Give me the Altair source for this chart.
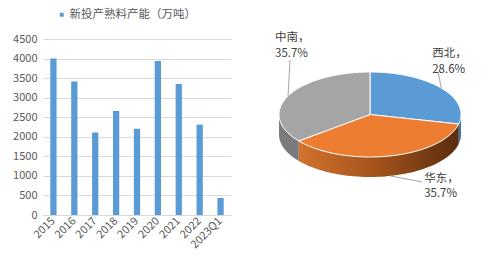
import altair as alt
import pandas as pd
import numpy as np

# ---------------- data ----------------
years = ["2015", "2016", "2017", "2018", "2019", "2020", "2021", "2022", "2023Q1"]
capacity = [4000, 3415, 2110, 2660, 2205, 3935, 3350, 2310, 435]
series_name = "新投产熟料产能（万吨）"

regions = ["西北", "华东", "中南"]
shares = [28.6, 35.7, 35.7]

# ---------------- styles / layout ----------------
FONT = "Noto Sans CJK SC"
BAR_COLOR = "#5b9bd5"
top_colors = ["#5b9bd5", "#ed7d31", "#a5a5a5"]
wall_colors = ["#3d74a8", None, "#7b7b7b"]
orange_wall = alt.Gradient(
    gradient="linear",
    stops=[alt.GradientStop(color="#d2722d", offset=0),
           alt.GradientStop(color="#a2521b", offset=0.5),
           alt.GradientStop(color="#5a2c0e", offset=1)],
    x1=0, x2=1, y1=0, y2=0,
)

PW, PH = 240, 176           # pie panel size
cx, cy, rx, ry, depth = 118, 75.5, 91, 42.5, 20
# leader (dx, dy) from slice edge, then label offset (first line) from leader end
leader_off = [(-3, -16), (32, 6), (2, -36)]
label_off = [(-6, -18), (2, -3), (-15, -22)]

# ---------------- bar chart ----------------
bar_df = pd.DataFrame({"year": years, "capacity": capacity, "series": series_name})
bars = alt.Chart(bar_df).mark_bar().encode(
    x=alt.X("year:N", sort=years, title=None,
            scale=alt.Scale(paddingInner=0.7, paddingOuter=0.35),
            axis=alt.Axis(labelAngle=-45, labelAlign="right", labelBaseline="middle",
                          labelFontSize=11, labelColor="#595959", labelFont=FONT,
                          labelPadding=4, ticks=False, domainColor="#d9d9d9",
                          grid=False)),
    y=alt.Y("capacity:Q", title=None, scale=alt.Scale(domain=[0, 4500], nice=False),
            axis=alt.Axis(values=list(range(0, 4501, 500)), format="d", labelFontSize=11,
                          labelColor="#595959", labelFont=FONT, labelPadding=6,
                          domain=False, ticks=False, gridColor="#d9d9d9")),
    color=alt.Color("series:N",
                    scale=alt.Scale(domain=[series_name], range=[BAR_COLOR]),
                    legend=alt.Legend(title=None, orient="none", legendX=13, legendY=-30,
                                      symbolType="square", symbolSize=30,
                                      labelFont=FONT, labelFontSize=11.5,
                                      labelColor="#595959", labelOffset=2)),
).properties(width=188, height=176)

# ---------------- 3D-style pie ----------------
cum = np.concatenate([[0], np.cumsum(shares)]) / 100 * 360
top_rows, wall_rows, lead_rows, lab_rows = [], [], [], []
for i, name in enumerate(regions):
    a0, a1 = cum[i], cum[i + 1]
    angs = np.radians(np.linspace(a0, a1, 80))
    k = 0
    top_rows.append(dict(region=name, idx=k, x=cx, y=cy, fill=top_colors[i])); k += 1
    for a in angs:
        top_rows.append(dict(region=name, idx=k, x=cx + rx * np.sin(a),
                             y=cy - ry * np.cos(a), fill=top_colors[i])); k += 1
    top_rows.append(dict(region=name, idx=k, x=cx, y=cy, fill=top_colors[i]))
    lo, hi = max(a0, 90), min(a1, 270)
    if lo < hi:
        for a in np.radians(np.linspace(lo, hi, 60)):
            yt = cy - ry * np.cos(a)
            wall_rows.append(dict(region=name, x=cx + rx * np.sin(a), y=yt, y2=yt + depth))
    mid = np.radians((a0 + a1) / 2)
    ex, ey = cx + rx * np.sin(mid), cy - ry * np.cos(mid)
    if 90 < np.degrees(mid) < 270:
        ey += depth
    lx, ly = ex + leader_off[i][0], ey + leader_off[i][1]
    lead_rows.append(dict(region=name, x=ex, y=ey, x2=lx, y2=ly))
    lab_rows.append(dict(region=name, x=lx + label_off[i][0], y=ly + label_off[i][1],
                         text=f"{name}，\n{shares[i]:.1f}%"))

top_df = pd.DataFrame(top_rows)
wall_df = pd.DataFrame(wall_rows)
lead_df = pd.DataFrame(lead_rows)
lab_df = pd.DataFrame(lab_rows)

xs = alt.Scale(domain=[0, PW], nice=False, zero=False)
ys = alt.Scale(domain=[0, PH], nice=False, zero=False, reverse=True)
noax = None

layers = []
for i, name in enumerate(regions):
    if name not in set(wall_df["region"]):
        continue
    col = orange_wall if wall_colors[i] is None else wall_colors[i]
    layers.append(
        alt.Chart(wall_df[wall_df["region"] == name]).mark_area(color=col).encode(
            x=alt.X("x:Q", scale=xs, axis=noax),
            y=alt.Y("y:Q", scale=ys, axis=noax),
            y2="y2:Q",
        )
    )

tops = alt.Chart(top_df).mark_line(filled=True, stroke="white", strokeWidth=1).encode(
    x=alt.X("x:Q", scale=xs, axis=noax),
    y=alt.Y("y:Q", scale=ys, axis=noax),
    color=alt.Color("fill:N", scale=None),
    detail="region:N",
    order="idx:Q",
)
leaders = alt.Chart(lead_df).mark_rule(color="#a6a6a6", strokeWidth=1).encode(
    x=alt.X("x:Q", scale=xs, axis=noax), y=alt.Y("y:Q", scale=ys, axis=noax),
    x2="x2:Q", y2="y2:Q",
)
labels = alt.Chart(lab_df).mark_text(align="left", baseline="middle", lineBreak="\n",
                                     font=FONT, fontSize=11.5, lineHeight=15.5,
                                     color="#404040").encode(
    x=alt.X("x:Q", scale=xs, axis=noax), y=alt.Y("y:Q", scale=ys, axis=noax),
    text="text:N",
)
pie = alt.layer(*layers, tops, leaders, labels).properties(width=PW, height=PH)

chart = alt.hconcat(bars, pie, spacing=21).properties(
    padding={"left": 12, "top": 9, "right": 0, "bottom": 0},
    background="white",
).configure_view(stroke=None)

chart.save("out.html", embed_options={"renderer": "svg", "actions": False})
